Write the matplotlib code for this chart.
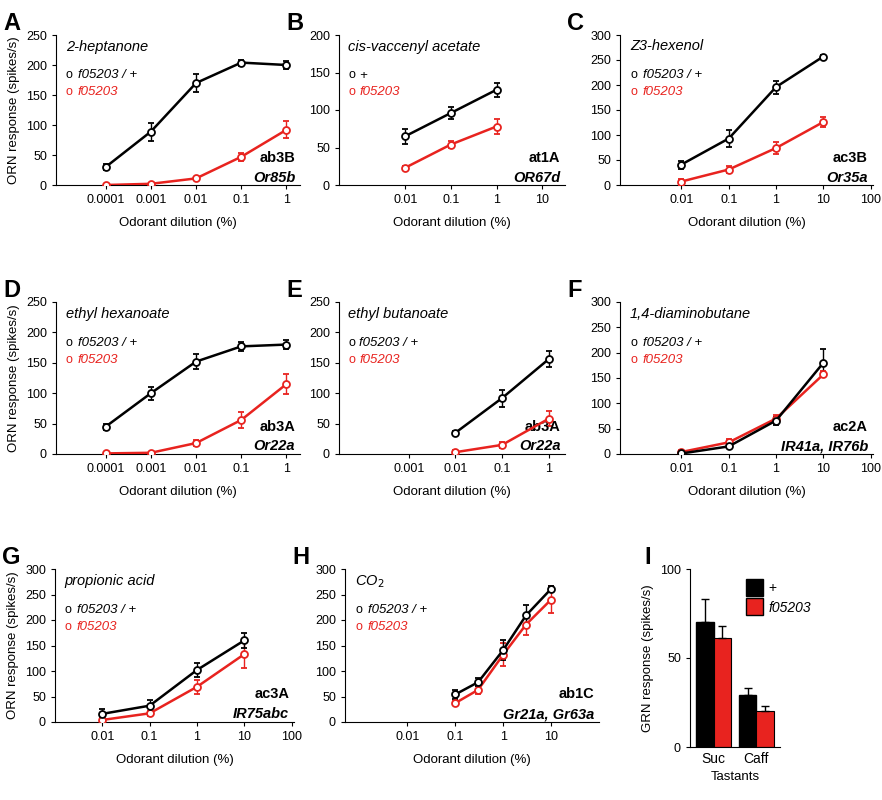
import matplotlib
matplotlib.use("Agg")
import matplotlib.pyplot as plt
import numpy as np
from matplotlib.patches import Patch

plt.rcParams['font.family'] = ['Liberation Sans', 'DejaVu Sans']
plt.rcParams['font.size'] = 9

W, H = 882, 800
RED = '#e8231f'

# ---- data ----
A_x = [1e-4, 1e-3, 1e-2, 1e-1, 1]
A_wt = [30, 89, 170, 204, 200]; A_wt_e = [5, 15, 15, 5, 7]
A_mu = [0, 2, 11, 47, 92]; A_mu_e = [2, 2, 3, 7, 14]

B_x = [0.01, 0.1, 1]
B_wt = [65, 96, 127]; B_wt_e = [10, 8, 9]
B_mu = [23, 54, 78]; B_mu_e = [2, 5, 10]

C_x = [0.01, 0.1, 1, 10]
C_wt = [41, 93, 196, 257]; C_wt_e = [8, 17, 13, 4]
C_mu = [7, 31, 74, 126]; C_mu_e = [6, 7, 12, 10]

D_x = [1e-4, 1e-3, 1e-2, 1e-1, 1]
D_wt = [45, 100, 152, 177, 180]; D_wt_e = [5, 11, 13, 8, 7]
D_mu = [1, 2, 18, 56, 115]; D_mu_e = [2, 2, 5, 13, 17]

E_x = [0.01, 0.1, 1]
E_wt = [35, 92, 156]; E_wt_e = [3, 14, 13]
E_mu = [3, 15, 58]; E_mu_e = [3, 5, 12]

F_x = [0.01, 0.1, 1, 10]
F_wt = [1, 15, 66, 180]; F_wt_e = [2, 4, 8, 28]
F_mu = [4, 23, 70, 157]; F_mu_e = [4, 6, 6, 6]

G_x = [0.01, 0.1, 1, 10]
G_wt = [16, 32, 102, 160]; G_wt_e = [10, 12, 14, 15]
G_mu = [4, 17, 69, 133]; G_mu_e = [6, 5, 14, 28]

H_x = [0.1, 0.3, 1, 3, 10]
H_wt = [54, 78, 141, 209, 261]; H_wt_e = [8, 8, 20, 20, 6]
H_mu = [37, 63, 132, 191, 240]; H_mu_e = [4, 8, 22, 20, 26]

I_cats = ['Suc', 'Caff']
I_wt = [70, 29]; I_wt_e = [13, 4]
I_mu = [61, 20]; I_mu_e = [7, 3]

fig = plt.figure(figsize=(W/100, H/100), dpi=100)

def ax_px(x0, x1, y0, y1):
    return fig.add_axes([x0/W, 1-y1/H, (x1-x0)/W, (y1-y0)/H])

def style(ax):
    for s in ['top', 'right']:
        ax.spines[s].set_visible(False)
    ax.tick_params(direction='out', length=3, labelsize=9)

def line_panel(box, letter, x, wt, wte, mu, mue, xlim, xticks, xtl, ymax, ystep,
               title, leg1, cell, rec, ylabel=True):
    ax = ax_px(*box)
    style(ax)
    ax.set_xscale('log')
    for y, e, c in [(mu, mue, RED), (wt, wte, 'black')]:
        ax.errorbar(x, y, yerr=e, color=c, lw=1.8, marker='o', ms=5,
                    mfc='white', mec=c, mew=1.3, capsize=2.5, elinewidth=1, zorder=3)
    ax.set_xlim(*xlim)
    ax.set_ylim(0, ymax)
    ax.set_yticks(np.arange(0, ymax + 1, ystep))
    ax.set_xticks(xticks)
    ax.set_xticklabels(xtl)
    ax.xaxis.set_minor_locator(matplotlib.ticker.NullLocator())
    ax.set_xlabel('Odorant dilution (%)', fontsize=9.5, labelpad=8)
    if ylabel:
        ax.set_ylabel('ORN response (spikes/s)', fontsize=9.5)
    ax.text(0.04, 0.97, title, transform=ax.transAxes, style='italic', fontsize=10.5, va='top')
    ax.text(0.04, 0.73, 'o', transform=ax.transAxes, fontsize=9, va='center', color='black')
    ax.text(0.09, 0.73, leg1, transform=ax.transAxes, fontsize=9.5, va='center', style='italic')
    ax.text(0.04, 0.62, 'o', transform=ax.transAxes, fontsize=9, va='center', color=RED)
    ax.text(0.09, 0.62, 'f05203', transform=ax.transAxes, fontsize=9.5, va='center', style='italic', color=RED)
    ax.text(0.98, 0.18, cell, transform=ax.transAxes, fontsize=10.5, ha='right', va='center', weight='bold')
    ax.text(0.98, 0.05, rec, transform=ax.transAxes, fontsize=10.5, ha='right', va='center',
            weight='bold', style='italic')
    fig.text(box[0]/W - 0.06, 1 - (box[2] - 12)/H, letter, fontsize=17, weight='bold', va='center')
    return ax

lA = ['0.0001', '0.001', '0.01', '0.1', '1']
line_panel((56, 300, 35, 185), 'A', A_x, A_wt, A_wt_e, A_mu, A_mu_e, (10**-5.1, 10**0.3),
           A_x, lA, 250, 50, '2-heptanone', 'f05203 / +', 'ab3B', 'Or85b')
line_panel((339, 565, 35, 185), 'B', B_x, B_wt, B_wt_e, B_mu, B_mu_e, (10**-3.45, 10**1.5),
           [0.01, 0.1, 1, 10], ['0.01', '0.1', '1', '10'], 200, 50, 'cis-vaccenyl acetate', '+',
           'at1A', 'OR67d', ylabel=False)
line_panel((620, 873, 35, 185), 'C', C_x, C_wt, C_wt_e, C_mu, C_mu_e, (10**-3.3, 10**2.05),
           [0.01, 0.1, 1, 10, 100], ['0.01', '0.1', '1', '10', '100'], 300, 50, 'Z3-hexenol',
           'f05203 / +', 'ac3B', 'Or35a', ylabel=False)
line_panel((56, 300, 302, 454), 'D', D_x, D_wt, D_wt_e, D_mu, D_mu_e, (10**-5.1, 10**0.3),
           D_x, lA, 250, 50, 'ethyl hexanoate', 'f05203 / +', 'ab3A', 'Or22a')
line_panel((339, 565, 302, 454), 'E', E_x, E_wt, E_wt_e, E_mu, E_mu_e, (10**-4.5, 10**0.35),
           [0.001, 0.01, 0.1, 1], ['0.001', '0.01', '0.1', '1'], 250, 50, 'ethyl butanoate',
           'f05203 / +', 'ab3A', 'Or22a', ylabel=False)
line_panel((620, 873, 302, 454), 'F', F_x, F_wt, F_wt_e, F_mu, F_mu_e, (10**-3.3, 10**2.05),
           [0.01, 0.1, 1, 10, 100], ['0.01', '0.1', '1', '10', '100'], 300, 50, '1,4-diaminobutane',
           'f05203 / +', 'ac2A', 'IR41a, IR76b', ylabel=False)
line_panel((55, 294, 569, 722), 'G', G_x, G_wt, G_wt_e, G_mu, G_mu_e, (10**-3.0, 10**2.05),
           [0.01, 0.1, 1, 10, 100], ['0.01', '0.1', '1', '10', '100'], 300, 50, 'propionic acid',
           'f05203 / +', 'ac3A', 'IR75abc')
line_panel((345, 599, 569, 722), 'H', H_x, H_wt, H_wt_e, H_mu, H_mu_e, (10**-3.3, 10**2.0),
           [0.01, 0.1, 1, 10], ['0.01', '0.1', '1', '10'], 300, 50, r'CO$_2$',
           'f05203 / +', 'ab1C', 'Gr21a, Gr63a', ylabel=False)

# ---- panel I ----
ax = ax_px(690, 780, 569, 747)
style(ax)
xi = np.arange(len(I_cats))
bw = 0.4
ax.bar(xi - bw/2, I_wt, bw, yerr=[[0]*2, I_wt_e], color='black', edgecolor='black',
       error_kw=dict(ecolor='black', capsize=3, elinewidth=1))
ax.bar(xi + bw/2, I_mu, bw, yerr=[[0]*2, I_mu_e], color=RED, edgecolor='black', linewidth=0.8,
       error_kw=dict(ecolor='black', capsize=3, elinewidth=1))
ax.set_xlim(-0.55, 1.55)
ax.set_ylim(0, 100)
ax.set_yticks([0, 50, 100])
ax.set_xticks(xi)
ax.set_xticklabels(I_cats, fontsize=10)
ax.tick_params(axis='x', length=0)
ax.set_xlabel('Tastants', fontsize=9.5)
ax.set_ylabel('GRN response (spikes/s)', fontsize=9.5)
ax.legend(handles=[Patch(facecolor='black', edgecolor='black', label='+'),
                   Patch(facecolor=RED, edgecolor='black', label='f05203')],
          loc='upper right', bbox_to_anchor=(1.45, 1.0), frameon=False, fontsize=10,
          handlelength=1.2, handleheight=1.5, borderpad=0.2, labelspacing=0.2, handletextpad=0.4)
ax.get_legend().get_texts()[1].set_style('italic')
fig.text(644/W, 1 - 557/H, 'I', fontsize=17, weight='bold', va='center')

fig.savefig('out.png', dpi=100)
